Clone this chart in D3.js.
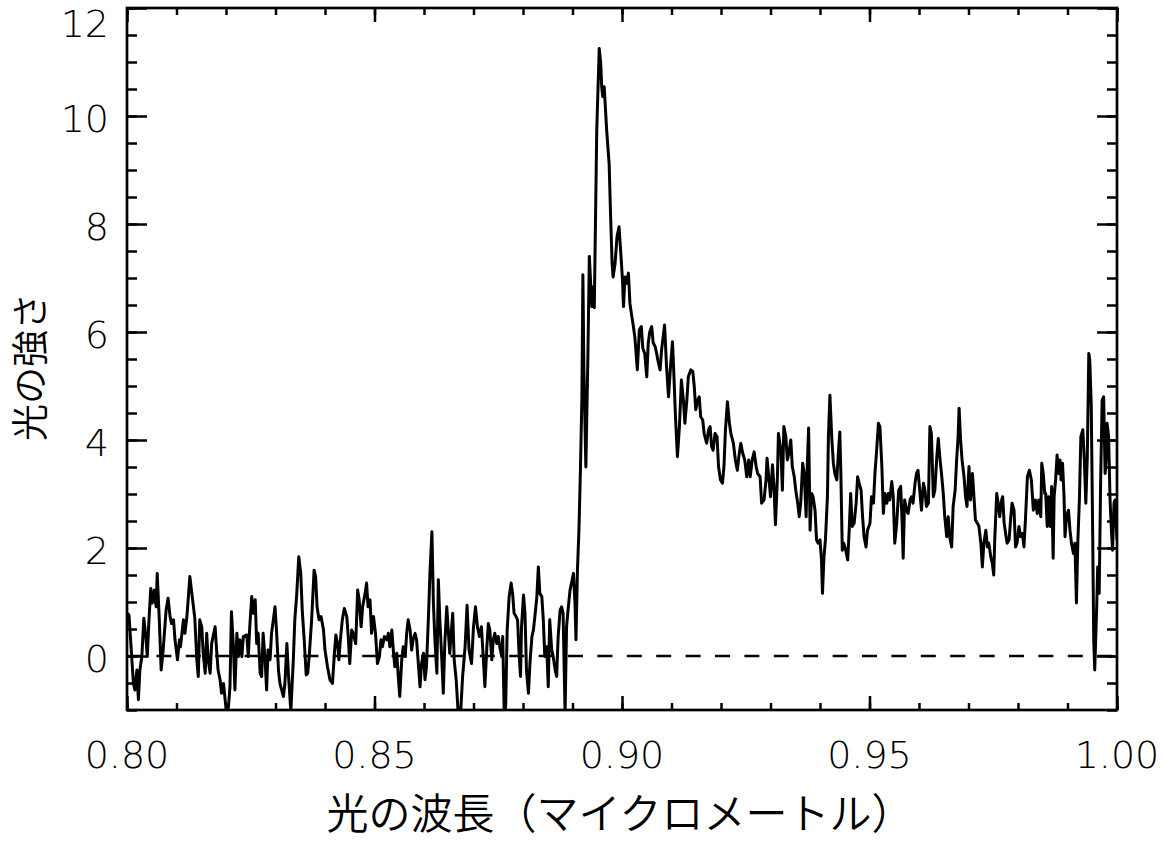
<!DOCTYPE html>
<html><head><meta charset="utf-8">
<script src="https://cdn.jsdelivr.net/npm/d3@7"></script>
<style>body{margin:0;background:#fff}</style>
</head><body>
<svg id="chart" width="1164" height="842"></svg>
<script>
const wavelength = [
0.8001,0.8004,0.8013,0.8016,0.8020,0.8023,0.8026,0.8030,0.8034,0.8038,
0.8041,0.8044,0.8048,0.8051,0.8055,0.8059,0.8061,0.8065,0.8069,0.8073,
0.8079,0.8083,0.8087,0.8090,0.8094,0.8097,0.8102,0.8106,0.8108,0.8114,
0.8117,0.8121,0.8127,0.8131,0.8137,0.8141,0.8144,0.8147,0.8151,0.8154,
0.8158,0.8161,0.8164,0.8168,0.8171,0.8178,0.8181,0.8184,0.8188,0.8191,
0.8195,0.8201,0.8205,0.8208,0.8211,0.8215,0.8218,0.8222,0.8225,0.8228,
0.8232,0.8235,0.8242,0.8245,0.8248,0.8252,0.8255,0.8259,0.8262,0.8265,
0.8269,0.8272,0.8275,0.8279,0.8282,0.8285,0.8289,0.8292,0.8299,0.8302,
0.8306,0.8309,0.8316,0.8319,0.8323,0.8326,
0.8331,0.8336,0.8339,0.8343,0.8347,0.8351,0.8354,0.8358,0.8362,0.8365,
0.8368,0.8373,0.8378,0.8381,0.8384,0.8388,0.8392,0.8397,0.8400,0.8405,
0.8410,0.8415,0.8419,0.8422,0.8426,0.8428,0.8431,0.8435,0.8439,0.8444,
0.8447,0.8450,0.8454,0.8457,0.8462,0.8466,0.8469,0.8473,0.8476,0.8481,
0.8484,0.8487,0.8491,0.8494,0.8498,0.8502,0.8506,0.8510,0.8513,0.8516,
0.8520,0.8525,0.8528,0.8531,0.8535,0.8538,0.8541,0.8545,0.8548,0.8551,
0.8555,0.8558,0.8562,0.8565,0.8568,0.8572,0.8575,0.8578,0.8582,0.8585,
0.8588,0.8592,0.8595,0.8599,0.8602,0.8605,0.8609,0.8612,0.8616,0.8619,
0.8622,0.8626,0.8629,0.8632,0.8636,0.8639,0.8642,0.8646,0.8649,0.8652,
0.8658,0.8661,0.8665,0.8669,0.8674,0.8678,0.8683,0.8687,0.8691,0.8696,
0.8700,0.8704,0.8708,0.8712,0.8716,0.8720,0.8723,0.8727,0.8730,0.8733,
0.8737,0.8740,0.8743,0.8747,0.8750,0.8753,0.8757,0.8759,0.8762,0.8765,
0.8768,0.8772,0.8776,0.8779,0.8782,0.8786,0.8789,0.8792,0.8795,0.8797,
0.8801,0.8804,0.8807,0.8811,0.8814,0.8818,0.8821,0.8824,0.8828,0.8831,
0.8834,0.8838,0.8841,0.8844,0.8848,0.8851,0.8854,0.8858,0.8861,0.8865,
0.8868,0.8871,0.8875,0.8878,0.8881,0.8885,0.8888,0.8891,0.8895,0.8898,
0.8902,0.8905,0.8907,0.8910,0.8913,0.8916,0.8919,0.8921,0.8923,0.8927,
0.8931,0.8934,0.8939,0.8942,0.8944,0.8949,0.8954,0.8957,0.8959,0.8961,
0.8964,0.8966,0.8969,0.8974,0.8977,0.8980,0.8982,0.8986,0.8990,0.8994,
0.8998,0.9001,0.9003,0.9006,0.9009,0.9013,0.9016,0.9020,0.9023,0.9026,
0.9031,0.9035,0.9039,0.9042,0.9046,0.9050,0.9053,0.9056,0.9060,0.9063,
0.9067,0.9070,0.9073,0.9077,0.9080,0.9086,0.9090,0.9094,0.9098,0.9102,
0.9105,0.9108,0.9112,0.9116,0.9120,0.9124,0.9127,0.9131,0.9134,0.9139,
0.9143,0.9146,0.9149,0.9153,0.9156,0.9159,0.9163,0.9166,0.9171,0.9175,
0.9178,0.9181,0.9184,0.9188,0.9192,0.9195,0.9199,0.9203,0.9206,0.9209,
0.9213,0.9217,0.9220,0.9225,0.9229,0.9233,0.9236,0.9240,0.9244,0.9248,
0.9252,0.9256,0.9259,0.9263,0.9267,0.9271,0.9274,0.9279,0.9282,0.9287,
0.9291,0.9293,0.9297,0.9300,0.9304,0.9307,0.9310,0.9314,0.9316,0.9321,
0.9324,0.9327,0.9331,0.9334,0.9337,0.9341,0.9344,0.9348,0.9351,0.9355,
0.9358,0.9361,0.9365,0.9368,0.9372,0.9374,0.9377,0.9380,0.9383,0.9386,
0.9390,0.9393,0.9396,0.9400,0.9403,0.9405,0.9408,0.9411,0.9415,0.9417,
0.9420,0.9424,0.9427,0.9430,0.9434,0.9437,0.9440,0.9442,0.9445,0.9448,
0.9452,0.9456,0.9459,0.9462,0.9465,0.9469,0.9473,0.9476,0.9479,0.9483,
0.9486,0.9489,0.9493,0.9496,0.9501,0.9504,0.9508,0.9511,0.9514,0.9518,
0.9521,0.9525,0.9528,0.9531,0.9535,0.9538,0.9541,0.9545,0.9548,0.9551,
0.9555,0.9559,0.9563,0.9566,0.9568,0.9571,0.9575,0.9578,0.9582,0.9585,
0.9588,0.9592,0.9595,0.9598,0.9602,0.9605,0.9609,0.9612,0.9615,0.9619,
0.9622,0.9625,0.9629,0.9632,0.9636,0.9639,0.9642,0.9646,0.9649,0.9652,
0.9656,0.9659,0.9662,0.9666,0.9669,0.9673,0.9676,0.9679,0.9681,0.9684,
0.9687,0.9691,0.9694,0.9697,0.9701,0.9704,0.9708,0.9711,0.9714,0.9718,
0.9721,0.9725,0.9728,0.9731,0.9735,0.9738,0.9741,0.9745,0.9748,0.9751,
0.9753,0.9757,0.9760,0.9763,0.9767,0.9769,0.9772,0.9775,0.9778,0.9782,
0.9785,0.9788,0.9792,0.9795,0.9798,0.9802,0.9805,0.9809,0.9812,0.9815,
0.9819,0.9823,0.9827,0.9831,0.9835,0.9839,0.9842,0.9846,0.9848,0.9851,
0.9854,0.9856,0.9859,0.9862,0.9865,0.9868,0.9871,0.9873,0.9876,0.9879,
0.9882,0.9885,0.9887,0.9890,0.9893,0.9895,0.9898,0.9902,0.9905,0.9908,
0.9912,0.9915,0.9918,0.9921,0.9924,0.9927,0.9931,0.9934,0.9937,0.9940,
0.9943,0.9945,0.9948,0.9951,0.9953,0.9955,0.9959,0.9961,0.9964,0.9967,
0.9970,0.9973,0.9976,0.9978,0.9980,0.9983,0.9986,0.9988,0.9991,0.9994,
0.9996,1.0000
];
const intensity = [
0.79,0.76,-0.51,-0.63,-0.26,-0.81,-0.26,-0.01,0.70,0.36,
-0.01,0.60,1.25,0.98,1.22,0.91,1.53,0.73,-0.26,0.11,
0.85,1.07,0.73,0.60,0.67,0.30,-0.07,0.30,0.17,0.67,
0.42,0.73,1.47,1.16,0.70,-0.07,-0.38,0.67,0.54,0.05,
-0.32,0.42,-0.07,-0.32,0.23,0.54,0.11,-0.26,-0.44,-0.69,
-0.51,-1.06,-0.94,-0.57,0.82,0.17,-0.63,0.42,-0.01,0.30,
-0.01,0.36,0.39,-0.01,0.54,1.10,0.79,1.04,0.23,0.42,
-0.32,-0.38,0.42,-0.07,-0.63,0.11,-0.07,0.42,0.91,0.48,
-0.26,-0.51,-0.75,-0.51,0.23,-0.32,
-1.03,-0.07,0.67,1.16,1.84,1.53,0.85,0.30,-0.35,-0.32,
-0.01,0.67,1.59,1.47,0.91,0.67,0.73,0.48,0.11,-0.20,
-0.44,-0.51,0.05,0.39,0.17,-0.07,0.30,0.67,0.88,0.73,
0.36,-0.14,0.48,0.42,0.23,1.22,1.04,0.54,0.91,1.16,
1.35,0.91,1.04,0.42,0.73,0.42,-0.14,-0.01,0.30,0.17,
0.36,0.30,0.42,0.17,0.48,0.11,-0.20,0.05,-0.38,-0.75,
-0.07,0.17,-0.01,0.42,0.67,0.48,0.11,0.30,0.42,0.30,
-0.07,-0.57,-0.14,0.05,-0.44,-0.20,0.73,1.53,2.30,0.98,
0.30,-0.32,1.41,0.67,-0.07,-0.69,0.23,0.91,0.48,0.05,
0.79,-0.07,-0.44,-1.05,-1.05,-0.38,0.17,0.94,0.11,-0.14,
0.54,0.91,0.54,0.36,0.54,-0.07,-0.57,0.17,0.60,0.48,
-0.07,0.30,0.42,0.23,0.36,0.17,-0.01,0.36,-1.05,-0.94,
0.48,1.10,1.35,1.16,0.79,0.73,0.67,0.05,-0.38,0.54,
1.13,0.79,-0.26,-0.69,-0.14,0.36,0.48,0.73,1.10,1.65,
1.16,1.10,0.67,-0.01,0.17,-0.57,0.67,0.11,-0.01,-0.26,
-0.38,0.36,0.85,0.91,0.79,-1.05,0.54,0.85,1.22,1.35,
1.53,0.98,0.30,1.59,2.33,3.44,4.80,7.06,5.30,3.50,
5.50,7.40,6.47,6.84,6.45,9.74,11.25,10.98,10.54,10.36,
10.54,10.23,9.74,9.12,8.14,7.27,7.02,7.27,7.77,7.95,
7.40,6.96,6.47,7.02,6.90,7.09,6.53,6.28,6.10,5.90,
5.30,6.04,6.10,5.70,5.60,5.17,5.79,6.00,6.10,5.80,
5.73,5.60,5.45,5.30,5.67,6.13,5.36,4.80,5.36,5.82,
5.17,4.43,3.69,4.25,5.11,4.74,4.31,4.74,5.17,5.30,
5.27,4.99,4.56,4.74,4.80,4.43,4.37,4.12,3.94,4.19,
4.25,3.88,3.81,4.12,4.06,3.51,3.26,3.20,3.51,4.19,
4.71,4.31,4.12,3.94,3.63,3.44,3.69,3.94,3.75,3.63,
3.32,3.63,3.32,3.63,3.78,3.51,3.38,3.32,2.83,2.89,
3.26,3.66,3.26,2.95,3.54,3.14,2.43,3.32,4.12,3.81,
3.07,4.25,4.06,3.63,3.75,4.00,3.51,3.32,3.07,2.83,
2.58,2.83,3.57,3.38,2.58,3.44,4.22,2.33,3.01,2.95,
2.70,2.15,2.09,2.15,1.78,1.16,1.84,2.15,2.95,4.06,
4.83,4.00,3.57,3.38,3.26,3.75,4.15,3.44,1.96,2.09,
1.96,1.78,2.33,3.01,2.40,2.46,2.83,3.32,3.20,3.07,
2.58,2.21,2.02,2.33,2.46,2.95,2.83,3.38,3.75,4.31,
4.25,3.51,2.64,3.01,2.83,3.01,2.89,3.23,2.95,2.09,
2.46,3.07,3.14,2.46,1.81,2.89,2.70,2.64,2.89,2.95,
2.83,3.20,3.38,3.44,3.01,2.70,3.20,3.07,2.77,2.83,
4.25,4.12,2.95,3.07,3.69,4.03,3.69,3.32,3.01,2.58,
2.21,2.58,2.21,2.02,2.77,3.07,3.63,4.06,4.59,4.00,
3.63,3.32,2.95,2.77,3.51,2.89,3.38,2.95,2.52,2.46,
2.40,2.09,1.65,2.09,2.33,2.02,2.09,1.84,1.72,1.50,
2.15,3.01,2.83,2.58,2.89,2.95,2.46,2.27,2.09,2.15,
2.52,2.83,2.70,2.02,2.09,2.40,2.21,2.27,2.02,2.52,
3.32,3.44,3.26,2.70,2.89,2.64,2.89,2.58,3.57,3.38,
3.01,3.01,2.40,2.95,2.40,3.14,1.81,2.95,3.26,3.72,
3.38,3.63,3.26,3.57,2.95,2.21,2.58,2.70,2.33,2.09,
1.90,2.09,0.98,2.15,2.89,4.06,4.19,3.63,2.83,3.69,
5.60,5.48,4.62,2.15,0.30,-0.26,0.91,1.65,1.16,3.26,
4.74,4.80,3.38,3.63,4.31,4.06,2.89,2.46,1.96,2.83,
2.89,2.15
];
const xMajorTicks = [0.80, 0.85, 0.90, 0.95, 1.00];
const xTickLabels = ["0.80", "0.85", "0.90", "0.95", "1.00"];
const yMajorTicks = [0, 2, 4, 6, 8, 10, 12];
const yTickLabels = ["0", "2", "4", "6", "8", "10", "12"];
const xDomain = [0.80, 1.00];
const yDomain = [-1, 12];
const referenceLevel = 0;
const xTitle = "光の波長（マイクロメートル）";
const yTitle = "光の強さ";

const NUM_FONT = '"DejaVu Sans", "Noto Sans", sans-serif';
const JP_FONT = '"Noto Sans CJK JP", "Noto Sans", sans-serif';
const plot = {left: 127, right: 1117, top: 8, bottom: 710};

const x = d3.scaleLinear().domain(xDomain).range([plot.left, plot.right]);
const y = d3.scaleLinear().domain(yDomain).range([plot.bottom, plot.top]);

const svg = d3.select("#chart");

svg.append("defs").append("clipPath").attr("id", "clip")
  .append("rect")
  .attr("x", plot.left).attr("y", plot.top)
  .attr("width", plot.right - plot.left).attr("height", plot.bottom - plot.top);

// zero reference dashed line
svg.append("line")
  .attr("x1", x(xDomain[0])).attr("x2", x(xDomain[1]))
  .attr("y1", y(referenceLevel)).attr("y2", y(referenceLevel))
  .attr("stroke", "#000").attr("stroke-width", 2.3)
  .attr("stroke-dasharray", "15,14.4");

// spectrum
const data = d3.zip(wavelength, intensity);
svg.append("path")
  .datum(data)
  .attr("clip-path", "url(#clip)")
  .attr("fill", "none")
  .attr("stroke", "#000")
  .attr("stroke-width", 3)
  .attr("stroke-linejoin", "round")
  .attr("d", d3.line().x(d => x(d[0])).y(d => y(d[1])));

// ticks (inward on all four sides)
function ticks(axisGen, scale, values, len, tx, ty) {
  svg.append("g").attr("transform", `translate(${tx},${ty})`)
    .call(axisGen(scale).tickValues(values).tickSizeInner(-len).tickSizeOuter(0).tickFormat(""))
    .call(s => s.select(".domain").remove())
    .call(s => s.selectAll("line").attr("stroke", "#000").attr("stroke-width", 2.5));
}
const xMinor = x.ticks(20);
const yMinor = y.ticks(26);
ticks(d3.axisBottom, x, xMinor, 7, 0, plot.bottom);
ticks(d3.axisTop, x, xMinor, 7, 0, plot.top);
ticks(d3.axisBottom, x, xMajorTicks, 14, 0, plot.bottom);
ticks(d3.axisTop, x, xMajorTicks, 14, 0, plot.top);
ticks(d3.axisLeft, y, yMinor, 10, plot.left, 0);
ticks(d3.axisRight, y, yMinor, 10, plot.right, 0);
ticks(d3.axisLeft, y, yMajorTicks, 20, plot.left, 0);
ticks(d3.axisRight, y, yMajorTicks, 20, plot.right, 0);

// frame
svg.append("rect")
  .attr("x", plot.left).attr("y", plot.top)
  .attr("width", plot.right - plot.left).attr("height", plot.bottom - plot.top)
  .attr("fill", "none").attr("stroke", "#000").attr("stroke-width", 2.7);

// tick labels
svg.append("g").selectAll("text").data(xMajorTicks).join("text")
  .attr("x", d => x(d)).attr("y", 768)
  .attr("text-anchor", "middle")
  .attr("font-family", NUM_FONT).attr("font-weight", 200).attr("font-size", 38)
  .text((d, i) => xTickLabels[i]);

svg.append("g").selectAll("text").data(yMajorTicks).join("text")
  .attr("x", 109).attr("y", d => Math.max(y(d) + 16, plot.top + 29))
  .attr("text-anchor", "end")
  .attr("font-family", NUM_FONT).attr("font-weight", 200).attr("font-size", 38)
  .text((d, i) => yTickLabels[i]);

// axis titles
svg.append("text")
  .attr("x", (plot.left + plot.right) / 2 - 2).attr("y", 829)
  .attr("text-anchor", "middle")
  .attr("font-family", JP_FONT).attr("font-weight", 350).attr("font-size", 42)
  .text(xTitle);

svg.append("text")
  .attr("transform", `translate(44,367) rotate(-90)`)
  .attr("text-anchor", "middle")
  .attr("font-family", JP_FONT).attr("font-weight", 350).attr("font-size", 37)
  .text(yTitle);
</script>
</body></html>
